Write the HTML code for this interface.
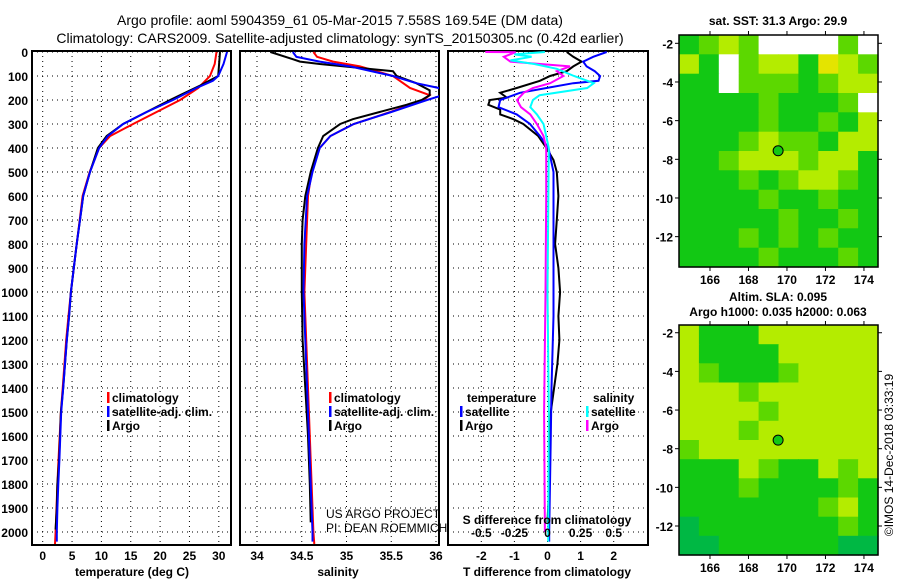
<!DOCTYPE html>
<html><head><meta charset="utf-8"><style>
body{margin:0;background:#fff;width:900px;height:580px;overflow:hidden;font-family:"Liberation Sans",sans-serif}
svg text{font-family:"Liberation Sans",sans-serif}
</style></head><body>
<svg id="c" width="900" height="580" xmlns="http://www.w3.org/2000/svg">
<text x="340" y="25" text-anchor="middle" font-size="14">Argo profile: aoml 5904359_61 05-Mar-2015 7.558S 169.54E (DM data)</text>
<text x="340" y="43" text-anchor="middle" font-size="14">Climatology: CARS2009. Satellite-adjusted climatology: synTS_20150305.nc (0.42d earlier)</text>
<text x="778" y="25" text-anchor="middle" font-size="12" font-weight="bold">sat. SST: 31.3 Argo: 29.9</text>
<text x="778" y="301" text-anchor="middle" font-size="12" font-weight="bold">Altim. SLA: 0.095</text>
<text x="778" y="316" text-anchor="middle" font-size="12" font-weight="bold">Argo h1000: 0.035 h2000: 0.063</text>
<text transform="translate(893,455) rotate(-90)" text-anchor="middle" font-size="12">©IMOS 14-Dec-2018 03:33:19</text>
</svg>
<script>
// ---------- data ----------
const depthTicks=[0,100,200,300,400,500,600,700,800,900,1000,1100,1200,1300,1400,1500,1600,1700,1800,1900,2000];
const tempTicks=[0,5,10,15,20,25,30];
const salTicks=[34,34.5,35,35.5,36];
const salTickLabels=["34","34.5","35","35.5","36"];
const tdiffTicks=[-2,-1,0,1,2];
const sdiffTicks=[-0.5,-0.25,0,0.25,0.5];
const sdiffLabels=["-0.5","-0.25","0","0.25","0.5"];

const argoTempDepth=[0,100,140,180,200,250,300,350,400,500,600,700,800,900,1000,1100,1200,1400,1500,1600,1700,1800,1900,1990];
const argoTemp=[30.2,29.9,26.8,23.4,21.7,17.7,13.7,10.9,9.4,8.05,6.9,6.35,5.8,5.3,4.8,4.5,4.1,3.5,3.1,2.95,2.8,2.5,2.4,2.2];
const climTempDepth=[0,50,100,150,200,250,300,350,400,500,600,700,800,900,1000,1100,1200,1400,1500,1600,1700,1800,1900,2000,2050];
const climTemp=[29.6,29.3,28.5,26.5,23.4,19.4,15.4,11.5,9.6,8.0,6.8,6.3,5.8,5.3,4.8,4.4,4.0,3.4,3.1,2.9,2.7,2.5,2.35,2.2,2.1];
const satTempDepth=[0,50,100,120,150,200,250,300,350,400,500,600,700,800,900,1000,1100,1200,1400,1500,1600,1700,1800,1900,2000,2040];
const satTemp=[31.4,30.8,29.9,29.0,26.2,22.2,17.7,13.7,11.1,9.6,8.05,6.9,6.35,5.8,5.3,4.8,4.5,4.1,3.5,3.15,3.0,2.85,2.65,2.5,2.4,2.4];

const argoSalDepth=[0,30,40,50,80,100,130,160,180,200,220,250,280,300,350,400,500,600,700,800,1000,1200,1400,1600,1800,1960];
const argoSal=[34.15,34.4,34.48,34.7,35.52,35.56,35.78,35.93,35.93,35.84,35.67,35.37,35.07,34.93,34.74,34.68,34.6,34.54,34.51,34.5,34.5,34.51,34.54,34.57,34.59,34.6];
const climSalDepth=[0,20,40,60,100,150,180,200,250,300,350,400,500,600,800,1000,1200,1400,1600,1800,2000,2050];
const climSal=[34.63,34.67,34.85,35.15,35.52,35.71,35.93,35.86,35.49,35.08,34.82,34.7,34.61,34.57,34.55,34.53,34.55,34.57,34.59,34.61,34.63,34.64];
const satSalDepth=[0,20,40,60,100,130,150,170,185,200,250,300,350,400,500,600,800,1000,1200,1400,1600,1800,2000,2040];
const satSal=[34.4,34.44,34.7,35.04,35.52,35.78,36.03,36.1,36.03,35.9,35.5,35.08,34.82,34.7,34.62,34.56,34.53,34.52,34.54,34.56,34.58,34.6,34.62,34.62];

const argoTdDepth=[0,20,40,60,80,100,120,150,170,190,200,220,240,260,280,300,350,400,450,500,600,700,800,900,1000,1100,1200,1300,1400,1500,1600,1800,1960];
const argoTd=[0.58,0.78,1.03,0.78,0.58,0.08,-0.23,-0.93,-1.43,-1.23,-1.74,-1.79,-1.43,-1.43,-1.03,-0.73,-0.28,-0.03,0.18,0.28,0.33,0.28,0.23,0.33,0.38,0.33,0.36,0.3,0.2,0.1,0.08,0.05,0.0];
const satTdDepth=[0,20,40,60,80,100,120,130,150,170,200,230,260,300,350,400,500,600,800,1000,1100,1400,1600,2000,2040];
const satTd=[1.79,1.38,1.08,1.18,1.43,1.59,1.54,0.78,-0.03,-0.83,-1.43,-1.48,-0.93,-0.53,-0.23,0.03,0.18,0.18,0.18,0.18,0.18,0.12,0.1,0.05,0.05];
const argoSdDepth=[0,1,20,40,60,80,100,130,150,170,200,230,260,300,350,400,600,1000,1500,2000];
const argoSd=[-0.47,-0.24,-0.33,-0.28,0.17,0.07,0.12,0.02,-0.11,-0.18,-0.23,-0.2,-0.13,-0.08,-0.03,-0.01,-0.01,-0.015,-0.026,-0.02];
const satSdDepth=[0,10,20,35,50,70,100,130,150,180,200,230,260,300,350,400,1000,1500,2000,2040];
const satSd=[-0.02,-0.25,-0.12,-0.28,-0.1,0.07,0.2,0.35,0.3,-0.06,-0.11,-0.13,-0.08,-0.03,-0.01,0.01,0.0,0.01,0.005,0.005];

const mapLonTicks=[166,168,170,172,174];
const mapLatTicks=[-2,-4,-6,-8,-10,-12];
const sstGrid=["GgYgWWWWgW","YGWgYYGyYg","GGWgggGgYY","GGGGgGGGgW","GGGGgGGgGY","GGGgYggGYY","GGgYYYgYYG","GGGgGgYYgG","GGGGgGGgGG","GGGGGgGGgG","GGGgGgGgGG","GGGGgGGGgG"];
const slaGrid=["YGGGYYYYYY","YGGGGYYYYY","YgGGGgYYYY","YYYgYYYYYY","YYYYgYYYYY","YYYgYYYYYY","gYYYYYYYYY","GGGYgGGYgY","GGGgGGGGgG","GGGGGGGgYG","DGGGGGGGgG","DDGGGGGGDD"];
const floatLon=169.54, floatLat=-7.558;

// ---------- helpers ----------
const svg=document.getElementById('c');
const NS='http://www.w3.org/2000/svg';
function mk(tag,attrs,parent){const e=document.createElementNS(NS,tag);for(const k in attrs)e.setAttribute(k,attrs[k]);(parent||svg).appendChild(e);return e;}
const yD=d=>52+d*0.24;
const TOP=52-1, BOT=545;

function panel(x0,x1,name){
  const g=mk('g',{});
  
  
  mk('rect',{x:x0,y:BOT-494,width:x1-x0,height:494,fill:'#fff',stroke:'#000','stroke-width':2},g);
  return g;
}
function gridX(g,xs,x0,x1){
  xs.forEach(x=>{const l=mk('line',{x1:x,x2:x,y1:TOP,y2:BOT,stroke:'#000','stroke-width':1,'stroke-dasharray':'1,4'},g);});
  depthTicks.forEach(d=>{mk('line',{x1:x0,x2:x1,y1:yD(d),y2:yD(d),stroke:'#000','stroke-width':1,'stroke-dasharray':'1,4'},g);});
}
function line(g,xs,ds,fx,color,name){
  const pts=xs.map((v,i)=>fx(v).toFixed(1)+','+yD(ds[i]).toFixed(1)).join(' ');
  const p=mk('polyline',{points:pts,fill:'none',stroke:color,'stroke-width':2},g);
  
  
}
function txt(g,x,y,s,opts){const t=mk('text',Object.assign({x:x,y:y,'font-size':12,'font-weight':'bold'},opts||{}),g);t.textContent=s;return t;}

// clip path
const defs=mk('defs',{});
[[32,231,'c1'],[240,439,'c2'],[448,648,'c3']].forEach(([a,b,id])=>{const cp=mk('clipPath',{id:id},defs);mk('rect',{x:a,y:TOP,width:b-a,height:BOT-TOP},cp);});

// ---------- panel 1: temperature ----------
const xT=v=>42.7+v*5.87;
const p1=panel(32,231,'temperature-panel');
gridX(p1,tempTicks.map(xT),32,231);
const l1=mk('g',{'clip-path':'url(#c1)'},p1);
line(l1,climTemp,climTempDepth,xT,'#f00','climatology-temp-line');
line(l1,argoTemp,argoTempDepth,xT,'#000','argo-temp-line');
line(l1,satTemp,satTempDepth,xT,'#00f','satellite-temp-line');
depthTicks.forEach(d=>{const t=txt(p1,28,yD(d)+5,String(d),{'text-anchor':'end'});});
tempTicks.forEach(v=>{const t=txt(p1,xT(v),560,String(v),{'text-anchor':'middle'});});
txt(p1,132,576,'temperature (deg C)',{'text-anchor':'middle'});

function legend(g,x,y,items){
  items.forEach((it,i)=>{
    const gg=mk('g',{},g);
    
    
    mk('rect',{x:x,y:y+i*14-10,width:2.5,height:11,fill:it[1]},gg);
    txt(gg,x+5,y+i*14,it[0]);
  });
}
legend(p1,107,402,[['climatology','#f00'],['satellite-adj. clim.','#00f'],['Argo','#000']]);

// ---------- panel 2: salinity ----------
const xS=v=>257+(v-34)*89.5;
const p2=panel(240,439,'salinity-panel');
gridX(p2,salTicks.map(xS),240,439);
const l2=mk('g',{'clip-path':'url(#c2)'},p2);
line(l2,climSal,climSalDepth,xS,'#f00','climatology-salinity-line');
line(l2,argoSal,argoSalDepth,xS,'#000','argo-salinity-line');
line(l2,satSal,satSalDepth,xS,'#00f','satellite-salinity-line');
salTicks.forEach((v,i)=>{const t=txt(p2,xS(v),560,salTickLabels[i],{'text-anchor':'middle'});});
txt(p2,338,576,'salinity',{'text-anchor':'middle'});
legend(p2,329,402,[['climatology','#f00'],['satellite-adj. clim.','#00f'],['Argo','#000']]);
txt(p2,326,518,'US ARGO PROJECT',{'font-weight':'normal'});
txt(p2,326,532,'PI: DEAN ROEMMICH',{'font-weight':'normal'});

// ---------- panel 3: differences ----------
const xTd=v=>547.5+v*33.1;
const xSd=v=>547.5+v*4*33.1;
const p3=panel(448,648,'difference-panel');
gridX(p3,tdiffTicks.map(xTd),448,648);
const l3=mk('g',{'clip-path':'url(#c3)'},p3);
line(l3,argoTd,argoTdDepth,xTd,'#000','argo-temp-diff-line');
line(l3,satTd,satTdDepth,xTd,'#00f','satellite-temp-diff-line');
line(l3,argoSd,argoSdDepth,xSd,'#f0f','argo-salinity-diff-line');
line(l3,satSd,satSdDepth,xSd,'#0ff','satellite-salinity-diff-line');
tdiffTicks.forEach(v=>{const t=txt(p3,xTd(v),560,String(v),{'text-anchor':'middle'});});
sdiffTicks.forEach((v,i)=>{const t=txt(p3,xSd(v),537,sdiffLabels[i],{'text-anchor':'middle'});});
txt(p3,547,524,'S difference from climatology',{'text-anchor':'middle'});
txt(p3,547,576,'T difference from climatology',{'text-anchor':'middle'});
txt(p3,467,402,'temperature');
legend(p3,460,416,[['satellite','#00f'],['Argo','#000']]);
txt(p3,593,402,'salinity');
legend(p3,586,416,[['satellite','#0ff'],['Argo','#f0f']]);

// ---------- maps ----------
const colors={W:'#ffffff',G:'#12c814',g:'#5cd800',Y:'#b4ec00',y:'#e4e400',D:'#00b844'};
function map(y0,y1,latTop,latBot,grid,name){
  const x0=679,x1=878,lonL=164.39,lonR=174.73;
  const xL=v=>x0+(v-lonL)/(lonR-lonL)*(x1-x0);
  const yL=v=>y0+(latTop-v)/(latTop-latBot)*(y1-y0);
  const g=mk('g',{});
  
  
  const rows=grid.length, cols=grid[0].length;
  const cw=(x1-x0)/cols, ch=(y1-y0)/rows;
  grid.forEach((r,i)=>{for(let j=0;j<cols;j++){
    const c=mk('rect',{x:(x0+j*cw).toFixed(1),y:(y0+i*ch).toFixed(1),width:(cw+0.6).toFixed(1),height:(ch+0.6).toFixed(1),fill:colors[r[j]]},g);
    
    
  }});
  mk('rect',{x:x0,y:y0,width:x1-x0,height:y1-y0,fill:'none',stroke:'#000','stroke-width':1.5},g);
  mapLonTicks.forEach(v=>{
    mk('line',{x1:xL(v),x2:xL(v),y1:y0-4,y2:y0,stroke:'#000'},g);
    mk('line',{x1:xL(v),x2:xL(v),y1:y1,y2:y1+4,stroke:'#000'},g);
    const t=txt(g,xL(v),y1+17,String(v),{'text-anchor':'middle'});
    
  });
  mapLatTicks.forEach(v=>{
    mk('line',{x1:x0-4,x2:x0,y1:yL(v),y2:yL(v),stroke:'#000'},g);
    mk('line',{x1:x1,x2:x1+4,y1:yL(v),y2:yL(v),stroke:'#000'},g);
    const t=txt(g,x0-6,yL(v)+5,String(v),{'text-anchor':'end'});
    
  });
  const m=mk('circle',{cx:xL(floatLon),cy:yL(floatLat),r:5,fill:'#12c814',stroke:'#000','stroke-width':1},g);
  
  
}
map(35,267,-1.57,-13.57,sstGrid,'sst-map');
map(325,555,-1.6,-13.5,slaGrid,'sla-map');
</script>
</body></html>
